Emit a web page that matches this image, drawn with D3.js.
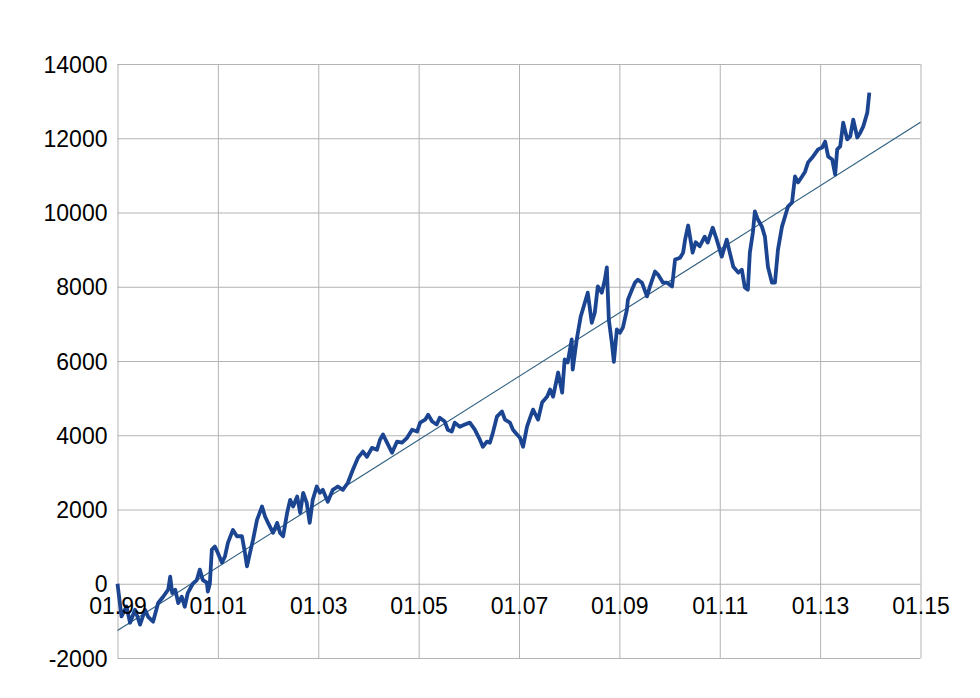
<!DOCTYPE html>
<html>
<head>
<meta charset="utf-8">
<script src="https://cdn.jsdelivr.net/npm/d3@7"></script>
<style>
  body { margin: 0; background: #fff; }
  svg { display: block; }
  .tick text { font-family: "Liberation Sans", Arial, sans-serif; font-size: 23px; fill: #000; }
</style>
</head>
<body>
<svg id="chart" width="980" height="698"></svg>
<script>
// Tick values and labels
const yTicks = [-2000, 0, 2000, 4000, 6000, 8000, 10000, 12000, 14000];
const xTickYears = [1999, 2001, 2003, 2005, 2007, 2009, 2011, 2013, 2015];
const xTickLabels = ["01.99", "01.01", "01.03", "01.05", "01.07", "01.09", "01.11", "01.13", "01.15"];

// Series: decimal year and value
const years = [
  1999.00, 1999.08, 1999.18, 1999.25, 1999.35, 1999.45, 1999.55, 1999.61, 1999.71, 1999.81,
  1999.91, 2000.01, 2000.05, 2000.09, 2000.15, 2000.21, 2000.28, 2000.34, 2000.40, 2000.50,
  2000.58, 2000.64, 2000.70, 2000.78, 2000.80, 2000.84, 2000.88, 2000.94, 2001.00, 2001.08,
  2001.14, 2001.20, 2001.30, 2001.38, 2001.48, 2001.54, 2001.58, 2001.64, 2001.70, 2001.78,
  2001.88, 2001.94, 2002.00, 2002.10, 2002.18, 2002.24, 2002.30, 2002.38, 2002.44, 2002.50,
  2002.58, 2002.64, 2002.70, 2002.77, 2002.83, 2002.89, 2002.97, 2003.03, 2003.09, 2003.19,
  2003.29, 2003.39, 2003.49, 2003.59, 2003.69, 2003.79, 2003.89, 2003.97, 2004.07, 2004.17,
  2004.23, 2004.29, 2004.37, 2004.47, 2004.57, 2004.67, 2004.77, 2004.87, 2004.97, 2005.03,
  2005.13, 2005.19, 2005.27, 2005.36, 2005.42, 2005.52, 2005.58, 2005.66, 2005.72, 2005.82,
  2005.92, 2006.02, 2006.12, 2006.22, 2006.28, 2006.36, 2006.42, 2006.48, 2006.56, 2006.66,
  2006.72, 2006.82, 2006.88, 2006.96, 2007.02, 2007.08, 2007.16, 2007.22, 2007.28, 2007.38,
  2007.46, 2007.56, 2007.62, 2007.68, 2007.78, 2007.86, 2007.91, 2007.97, 2008.05, 2008.07,
  2008.15, 2008.23, 2008.27, 2008.37, 2008.45, 2008.51, 2008.57, 2008.65, 2008.71, 2008.75,
  2008.79, 2008.85, 2008.89, 2008.95, 2009.01, 2009.07, 2009.15, 2009.17, 2009.25, 2009.31,
  2009.37, 2009.45, 2009.55, 2009.61, 2009.71, 2009.77, 2009.87, 2009.95, 2010.05, 2010.11,
  2010.21, 2010.27, 2010.31, 2010.37, 2010.46, 2010.52, 2010.60, 2010.70, 2010.76, 2010.86,
  2010.94, 2011.04, 2011.14, 2011.20, 2011.27, 2011.37, 2011.44, 2011.50, 2011.56, 2011.60,
  2011.66, 2011.70, 2011.76, 2011.84, 2011.90, 2011.96, 2012.04, 2012.10, 2012.16, 2012.24,
  2012.30, 2012.36, 2012.44, 2012.50, 2012.56, 2012.64, 2012.70, 2012.76, 2012.86, 2012.96,
  2013.04, 2013.10, 2013.16, 2013.24, 2013.30, 2013.34, 2013.40, 2013.46, 2013.54, 2013.60,
  2013.66, 2013.74, 2013.80, 2013.86, 2013.94, 2013.98
];
const values = [
  0, -880, -610, -1050, -700, -1100, -700, -890, -1020, -520,
  -350, -160, 190, -250, -160, -520, -350, -620, -250, 0,
  100, 380, 100, 30, -210, 0, 920, 1000, 830, 570,
  730, 1100, 1450, 1280, 1280, 830, 470, 830, 1180, 1720,
  2080, 1810, 1640, 1370, 1640, 1370, 1280, 1910, 2260, 2080,
  2350, 1910, 2450, 2180, 1640, 2260, 2620, 2450, 2530, 2210,
  2530, 2620, 2530, 2720, 3070, 3390, 3560, 3420, 3660, 3610,
  3880, 4020, 3800, 3530, 3830, 3800, 3930, 4150, 4100, 4340,
  4420, 4550, 4370, 4290, 4470, 4370, 4150, 4100, 4340, 4230,
  4290, 4340, 4150, 3880, 3690, 3830, 3800, 4070, 4500, 4640,
  4420, 4340, 4150, 4020, 3930, 3690, 4230, 4470, 4690, 4420,
  4880, 5040, 5230, 5040, 5690, 5150, 6040, 5960, 6580, 5770,
  6580, 7200, 7380, 7840, 7030, 7300, 8010, 7840, 8190, 8520,
  7110, 6490, 5980, 6850, 6760, 6900, 7380, 7650, 7920, 8110,
  8190, 8110, 7740, 8010, 8410, 8330, 8110, 8110, 8010, 8730,
  8780, 8920, 9270, 9650, 8920, 9200, 9090, 9350, 9190, 9590,
  9270, 8810, 9270, 8920, 8540, 8380, 8460, 7980, 7920, 8920,
  9460, 10030, 9810, 9620, 9350, 8540, 8110, 8110, 9000, 9620,
  9890, 10160, 10270, 10970, 10810, 10970, 11100, 11350, 11510, 11700,
  11750, 11910, 11510, 11430, 11020, 11700, 11780, 12420, 11970, 12050,
  12500, 12020, 12150, 12320, 12690, 13230
];

// Linear trend line end points
const trendYears = [1999, 2015];
const trendValues = [-1260, 12430];

const svg = d3.select("#chart");
const plotLeft = 117.5, plotRight = 920.5, plotTop = 64, plotBottom = 658;

const x = d3.scaleLinear().domain([1999, 2015]).range([plotLeft, plotRight]);
const y = d3.scaleLinear().domain([-2000, 14000]).range([plotBottom, plotTop]);

// Horizontal grid + y labels
const yAxis = svg.append("g")
    .attr("transform", `translate(${plotLeft},0)`)
    .call(d3.axisLeft(y).tickValues(yTicks).tickSize(-(plotRight - plotLeft)).tickPadding(10).tickFormat(d => String(d)));
yAxis.select(".domain").remove();
yAxis.selectAll(".tick line").attr("stroke", "#b3b3b3");
yAxis.selectAll(".tick text").attr("dy", "0.35em");

// Vertical grid
const xGrid = svg.append("g")
    .attr("transform", `translate(0,${plotBottom})`)
    .call(d3.axisBottom(x).tickValues(xTickYears).tickSize(-(plotBottom - plotTop)).tickFormat(""));
xGrid.select(".domain").remove();
xGrid.selectAll(".tick line").attr("stroke", "#b3b3b3");

// Trend line
svg.append("line")
    .attr("x1", x(trendYears[0])).attr("y1", y(trendValues[0]))
    .attr("x2", x(trendYears[1])).attr("y2", y(trendValues[1]))
    .attr("stroke", "#2f5f80")
    .attr("stroke-width", 1.2);

// Series line
const series = years.map((t, i) => ({ t, v: values[i] }));
svg.append("path")
    .datum(series)
    .attr("fill", "none")
    .attr("stroke", "#1b4591")
    .attr("stroke-width", 3.8)
    .attr("stroke-linejoin", "round")
    .attr("d", d3.line().x(d => x(d.t)).y(d => y(d.v)));

// X labels sit on the zero line
const xAxis = svg.append("g")
    .attr("transform", `translate(0,${y(0)})`)
    .call(d3.axisBottom(x).tickValues(xTickYears).tickSize(0).tickPadding(14)
        .tickFormat((d, i) => xTickLabels[i]));
xAxis.select(".domain").remove();
</script>
</body>
</html>
